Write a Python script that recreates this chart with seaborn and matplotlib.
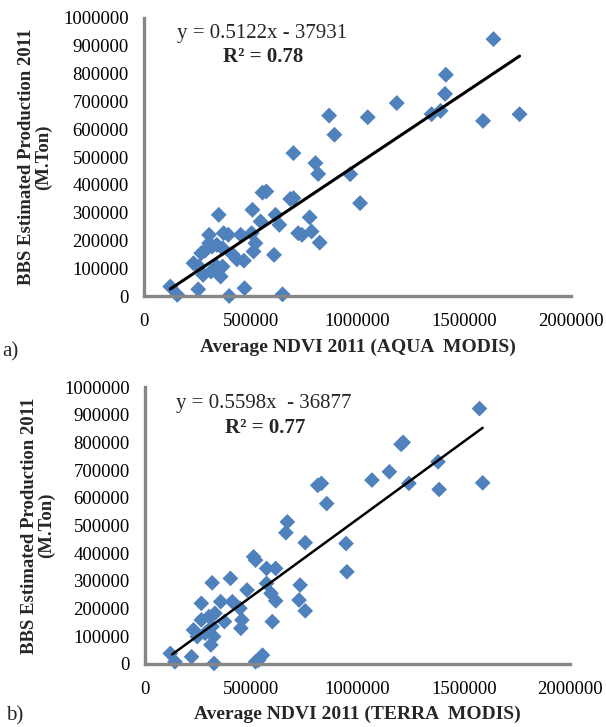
import matplotlib
matplotlib.use("Agg")
import matplotlib.pyplot as plt
import seaborn as sns
import numpy as np
import pandas as pd

# ---- Data: panel a (AQUA MODIS) ----
aqua_x = [1637000, 1414000, 1410000, 1184000, 1347000, 1389000, 1759000, 1588000,
          1048000, 867000, 892000, 700000, 803000, 816000, 966000, 1012000,
          555000, 573000, 685000, 700000, 508000, 350000, 616000, 776000,
          546000, 634000, 305000, 373000, 395000, 453000, 504000, 722000,
          740000, 785000, 823000, 286000, 319000, 341000, 368000, 413000,
          435000, 468000, 513000, 522000, 609000, 232000, 257000, 314000,
          341000, 368000, 277000, 359000, 123000, 156000, 254000, 471000,
          399000, 649000, 305000, 268000]
aqua_y = [924000, 796000, 727000, 694000, 654000, 666000, 654000, 630000,
          643000, 649000, 580000, 514000, 478000, 439000, 438000, 334000,
          372000, 376000, 349000, 352000, 310000, 292000, 292000, 283000,
          268000, 256000, 220000, 226000, 220000, 220000, 226000, 226000,
          220000, 232000, 192000, 163000, 178000, 184000, 172000, 151000,
          132000, 127000, 160000, 190000, 148000, 118000, 106000, 88000,
          106000, 106000, 76000, 70000, 34000, 4000, 24000, 28000,
          0, 6000, 190000, 154000]
aqua_slope, aqua_intercept = 0.5122, -37931
aqua_trend_x = [123000, 1759000]

# ---- Data: panel b (TERRA MODIS) ----
terra_x = [1574000, 1205000, 1215000, 1379000, 1150000, 1068000, 1242000, 1384000,
           1589000, 813000, 830000, 855000, 670000, 663000, 754000, 946000,
           950000, 520000, 511000, 572000, 615000, 316000, 402000, 480000,
           572000, 593000, 615000, 730000, 725000, 754000, 599000, 265000,
           356000, 411000, 447000, 456000, 451000, 374000, 265000, 301000,
           316000, 246000, 283000, 323000, 310000, 228000, 329000, 119000,
           141000, 219000, 325000, 535000, 553000, 520000]
terra_y = [922000, 793000, 800000, 730000, 694000, 664000, 652000, 630000,
           654000, 645000, 652000, 579000, 513000, 474000, 438000, 435000,
           333000, 375000, 387000, 345000, 345000, 293000, 309000, 267000,
           291000, 255000, 228000, 285000, 231000, 192000, 153000, 219000,
           225000, 225000, 201000, 159000, 129000, 153000, 159000, 171000,
           135000, 99000, 111000, 99000, 69000, 123000, 183000, 38000,
           8000, 26000, 2000, 14000, 32000, 8000]
terra_slope, terra_intercept = 0.5598, -36877
terra_trend_x = [128000, 1589000]

x_ticks = [0, 500000, 1000000, 1500000, 2000000]
y_ticks = [0, 100000, 200000, 300000, 400000, 500000, 600000, 700000, 800000, 900000, 1000000]
x_tick_labels = ["0", "500000", "1000000", "1500000", "2000000"]
y_tick_labels = ["0", "100000", "200000", "300000", "400000", "500000",
                 "600000", "700000", "800000", "900000", "1000000"]

ylabel = "BBS Estimated Production 2011\n(M.Ton)"
xlabel_a = "Average NDVI 2011 (AQUA  MODIS)"
xlabel_b = "Average NDVI 2011 (TERRA  MODIS)"

sns.set_style("white")
plt.rcParams['font.family'] = ['Liberation Serif', 'DejaVu Serif']

BLUE = "#4F81BD"
SPINE = "#868686"

fig = plt.figure(figsize=(6.06, 7.27), dpi=100)
W, H = 606, 727


def make_axes(left, right, top, bottom):
    return fig.add_axes([left / W, 1 - bottom / H, (right - left) / W, (bottom - top) / H])


def style(ax, xlabel, ylab_x, xlab_y):
    ax.set_xlim(0, 2000000)
    ax.set_ylim(0, 1000000)
    ax.set_xticks(x_ticks)
    ax.set_xticklabels(x_tick_labels)
    ax.set_yticks(y_ticks)
    ax.set_yticklabels(y_tick_labels)
    ax.tick_params(length=0, labelsize=13.5, colors="black")
    ax.tick_params(axis="y", pad=11)
    ax.tick_params(axis="x", pad=12)
    for s in ["top", "right"]:
        ax.spines[s].set_visible(False)
    for s in ["left", "bottom"]:
        ax.spines[s].set_color(SPINE)
        ax.spines[s].set_linewidth(2.4)
    ax.set_ylabel(ylabel, fontsize=13.5, fontweight="bold", linespacing=1.0)
    ax.yaxis.label.set_va("center")
    ax.yaxis.set_label_coords(ylab_x, 0.5)
    ax.set_xlabel(xlabel, fontsize=14, fontweight="bold")
    ax.xaxis.label.set_va("center")
    ax.xaxis.set_label_coords(0.5, xlab_y)
    ax.grid(False)


# ---- Panel a ----
ax1 = make_axes(144, 571, 18, 296)
df_a = pd.DataFrame({"x": aqua_x, "y": aqua_y})
sns.scatterplot(data=df_a, x="x", y="y", ax=ax1, marker="D", s=66,
                color=BLUE, edgecolor="none", zorder=2, clip_on=False)
tr_a = pd.DataFrame({"x": aqua_trend_x,
                     "y": [aqua_slope * v + aqua_intercept for v in aqua_trend_x]})
sns.lineplot(data=tr_a, x="x", y="y", ax=ax1, color="black", linewidth=2.2, zorder=3)
style(ax1, xlabel_a, -0.255, -0.183)
ax1.text(0.276, 0.946, "y = 0.5122x - 37931", transform=ax1.transAxes,
         ha="center", va="center", fontsize=15)
ax1.text(0.279, 0.860, "R² = 0.78", transform=ax1.transAxes,
         ha="center", va="center", fontsize=15, fontweight="bold")

# ---- Panel b ----
ax2 = make_axes(145, 570, 387, 664)
df_b = pd.DataFrame({"x": terra_x, "y": terra_y})
sns.scatterplot(data=df_b, x="x", y="y", ax=ax2, marker="D", s=64,
                color=BLUE, edgecolor="none", zorder=2, clip_on=False)
tr_b = pd.DataFrame({"x": terra_trend_x,
                     "y": [terra_slope * v + terra_intercept for v in terra_trend_x]})
sns.lineplot(data=tr_b, x="x", y="y", ax=ax2, color="black", linewidth=1.8, zorder=3)
style(ax2, xlabel_b, -0.252, -0.18)
ax2.text(0.28, 0.942, "y = 0.5598x  - 36877", transform=ax2.transAxes,
         ha="center", va="center", fontsize=15)
ax2.text(0.282, 0.852, "R² = 0.77", transform=ax2.transAxes,
         ha="center", va="center", fontsize=15, fontweight="bold")

fig.text(2 / W, 1 - 352 / H, "a)", fontsize=15, ha="left", va="center")
fig.text(6 / W, 1 - 716 / H, "b)", fontsize=15, ha="left", va="center")

fig.savefig("out.png", dpi=100)
